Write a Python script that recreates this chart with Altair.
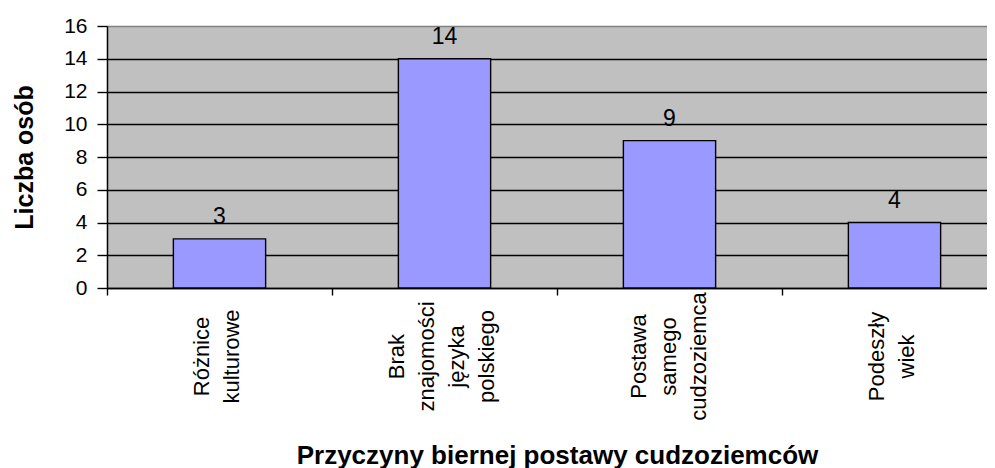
import altair as alt
import pandas as pd

# Data
categories = [
    "Różnice\nkulturowe",
    "Brak\nznajomości\njęzyka\npolskiego",
    "Postawa\nsamego\ncudzoziemca",
    "Podeszły\nwiek",
]
values = [3, 14, 9, 4]
y_ticks = [0, 2, 4, 6, 8, 10, 12, 14, 16]

df = pd.DataFrame({"kategoria": categories, "liczba": values})

FONT = "Liberation Sans"
NLINES = "length(split(datum.value, '\\n'))"

x_enc = alt.X(
    "kategoria:N",
    sort=categories,
    scale=alt.Scale(range=[0, 900], paddingInner=0, paddingOuter=0),
    axis=alt.Axis(
        title="Przyczyny biernej postawy cudzoziemców",
        titleFont=FONT,
        titleFontSize=26,
        titleFontWeight="bold",
        titleColor="black",
        titleX=450,
        titleY=175,
        titleAlign="center",
        titleBaseline="alphabetic",
        titleAngle=0,
        bandPosition=0,
        ticks=True,
        tickSize=7,
        tickColor="black",
        tickWidth=1.4,
        domain=True,
        domainColor="black",
        domainWidth=1.5,
        grid=False,
        labelAngle=-90,
        labelAlign="center",
        labelBaseline="middle",
        labelPadding=61,
        labelOffset={
            "condition": [
                {"test": NLINES + " == 4", "value": -48},
                {"test": NLINES + " == 3", "value": -31},
            ],
            "value": -18,
        },
        labelFont=FONT,
        labelFontSize=22,
        labelLineHeight=30,
        labelColor="black",
        labelExpr="split(datum.label, '\\n')",
        labelOverlap=False,
        labelBound=False,
        labelLimit=400,
    ),
)

y_enc = alt.Y(
    "liczba:Q",
    scale=alt.Scale(domain=[0, 16], nice=False, zero=True),
    axis=alt.Axis(
        title="Liczba osób",
        titleFont=FONT,
        titleFontSize=25,
        titleFontWeight="bold",
        titleColor="black",
        titleAngle=-90,
        titleX=-75,
        titleY=131,
        titleAlign="center",
        titleBaseline="alphabetic",
        values=y_ticks,
        ticks=True,
        tickSize=10,
        tickColor="black",
        tickWidth=1.4,
        domain=True,
        domainColor="black",
        domainWidth=1.5,
        grid=True,
        gridColor=alt.condition("datum.value == 16", alt.value("#808080"), alt.value("black")),
        gridWidth=1.5,
        labelFont=FONT,
        labelFontSize=21,
        labelColor="black",
        labelPadding=10,
    ),
)

bars = alt.Chart(df).mark_bar(
    color="#9999FF",
    stroke="black",
    strokeWidth=1.4,
    width=alt.RelativeBandSize(0.41),
).encode(x=x_enc, y=y_enc)

labels = alt.Chart(df).mark_text(
    font=FONT,
    fontSize=23,
    color="black",
    baseline="alphabetic",
    dy=-15,
).encode(x=x_enc, y=y_enc, text="liczba:Q")

chart = (
    alt.layer(bars, labels)
    .properties(
        width=880,
        height=262,
        autosize=alt.AutoSizeParams(type="none"),
        padding={"left": 99, "top": 18, "right": 0, "bottom": 180},
        background="white",
    )
    .configure_view(fill="#C0C0C0", stroke=None)
)

chart.save("out.html", embed_options={"renderer": "svg", "actions": False})
